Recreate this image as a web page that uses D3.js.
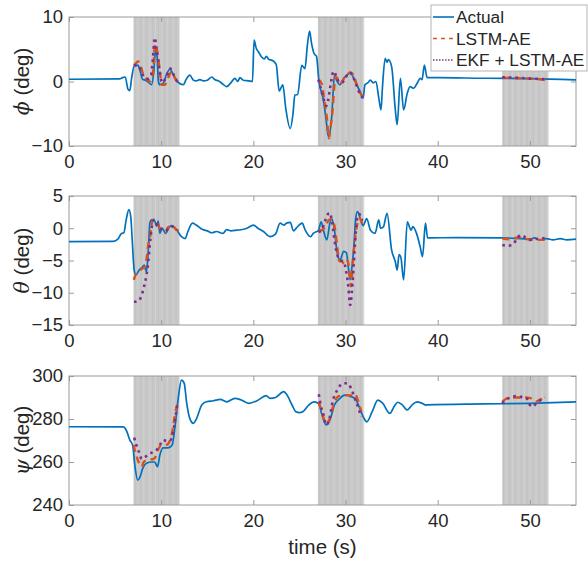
<!DOCTYPE html>
<html>
<head>
<meta charset="utf-8">
<script src="https://cdn.jsdelivr.net/npm/d3@7"></script>
<style>
  body { margin: 0; background: #fff; }
  text { font-family: "Liberation Sans", Arial, Helvetica, sans-serif; fill: #262626; }
</style>
</head>
<body>
<svg id="chart" width="588" height="562"></svg>
<script>
// ---- data -------------------------------------------------------------
const timeDomain = [0, 55];
const timeTicks = [0, 10, 20, 30, 40, 50];
// estimation windows (s)
const windows = [[7, 12], [27, 32], [47, 52]];

const seriesNames = ["Actual", "LSTM-AE", "EKF + LSTM-AE"];

// roll angle phi (deg); null separates estimation windows
const phiTicks = [-10, 0, 10];
const phiActual = [[0,0.35],[5.5,0.4],[5.8,0.6],[6.1,0.7],[6.4,-1.2],[6.6,-1.4],[6.8,0.6],[7.1,2.5],[7.5,2.5],[7.7,1.7],[8.0,0.3],[8.3,0.2],[8.6,-0.1],[8.95,-0.5],[9.2,1.5],[9.4,5.0],[9.55,4.0],[9.7,0],[9.85,-0.5],[10.2,-0.3],[10.6,1.2],[10.95,1.9],[11.3,1.1],[11.7,0.1],[12.0,-0.3],[12.4,-0.5],[12.7,0.3],[13.1,1.0],[13.5,0.2],[13.8,0.1],[14.2,0.3],[14.6,0.1],[15.0,0.2],[15.5,0.7],[15.8,0.3],[16.2,0.1],[16.6,-0.3],[17.1,-0.8],[17.5,-0.3],[18.0,0.5],[18.3,0],[18.55,0.6],[18.9,0.2],[19.5,0.1],[19.9,0.0],[20.08,6.4],[20.3,5.2],[20.6,4.5],[20.9,3.8],[21.2,3.5],[21.4,3.9],[21.7,3.4],[22.0,3.3],[22.3,3.0],[22.5,2.5],[22.8,-1.5],[23.0,-1.0],[23.2,-0.5],[23.5,-4],[24.0,-7.3],[24.3,-5],[24.5,-2.1],[24.8,-2.0],[25.25,2.5],[25.6,2.0],[25.85,5.5],[26.1,7.8],[26.3,6.0],[26.6,4.3],[26.85,3.9],[27.1,0.2],[27.6,-2.9],[27.9,-6],[28.15,-8.6],[28.5,-5.5],[28.8,1.0],[29.0,0.3],[29.4,-0.5],[29.8,0.5],[30.15,1.0],[30.5,1.3],[30.9,0.5],[31.2,-0.5],[31.6,-1.6],[31.9,-2.6],[32.1,-0.5],[32.4,-0.2],[32.7,0.2],[33.0,-0.2],[33.3,0.0],[33.6,-2.5],[33.85,-4.4],[34.0,-1],[34.3,3.6],[34.5,3.0],[34.65,3.4],[35.0,2.3],[35.4,-4.4],[35.6,-6.7],[35.95,0.5],[36.3,-4.4],[36.7,-1.8],[37.0,-0.8],[37.4,-1.05],[37.75,-0.3],[38.1,0.5],[38.3,0.3],[38.55,2.55],[38.85,0.6],[40,0.6],[45,0.5],[50,0.45],[55,0.25]];
const phiLstm = [[7.05,2.5],[7.3,2.9],[7.5,3.1],[7.7,2.8],[8.0,1.3],[8.4,0.4],[8.8,0.0],[9.15,1.8],[9.3,5.4],[9.4,5.8],[9.55,4.8],[9.7,3.4],[9.9,1.0],[10.05,-0.5],[10.4,-0.5],[10.8,0.7],[11.1,1.5],[11.5,0.5],[11.9,-0.2],
  null,[27.05,0.3],[27.4,-0.3],[27.7,-2.9],[28.0,-6],[28.2,-8.8],[28.35,-7.3],[28.6,-4.4],[28.75,-1.3],[28.9,0.8],[29.1,0.5],[29.4,-0.3],[29.9,0.6],[30.5,1.4],[30.9,0.9],[31.2,-0.4],[31.6,-1.8],[31.85,-2.3],
  null,[47,0.6],[48,0.55],[49,0.5],[50,0.45],[51,0.35],[51.9,0.3]];
const phiEkf = [[7.05,2.5],[7.4,2.5],[7.7,2.0],[7.9,1.3],[8.2,0.7],[8.6,0.4],[8.9,1.0],[9.1,3.5],[9.3,6.8],[9.5,5.0],[9.7,3.0],[9.85,1.5],[10.0,0.2],[10.2,-0.2],[10.4,0.3],[10.6,0.8],[10.85,1.8],[11.0,2.0],[11.3,1.2],[11.6,0.3],[11.9,-0.2],
  null,[27.05,0.3],[27.3,-1.0],[27.6,-2.6],[27.9,-3.8],[28.1,-3.0],[28.3,-1.2],[28.5,0.5],[28.7,1.6],[29.0,0.8],[29.3,-0.1],[29.6,-0.2],[30.0,0.6],[30.4,1.4],[30.7,1.1],[31.0,0.1],[31.3,-1.0],[31.6,-2.1],[31.85,-2.5],
  null,[47,0.65],[48,0.6],[49,0.55],[50,0.45],[51,0.4],[51.9,0.3]];

// pitch angle theta (deg)
const thetaTicks = [-15, -10, -5, 0, 5];
const thetaActual = [[0,-2.08],[4.8,-2.05],[5.3,-1.7],[5.7,-0.8],[5.95,-0.7],[6.2,1.3],[6.5,2.9],[6.7,1.8],[6.9,-2.9],[7.07,-6.5],[7.25,-7.25],[7.6,-6.5],[7.97,-6.0],[8.15,-5.7],[8.4,-6.7],[8.6,-3.6],[8.77,0.8],[8.95,1.3],[9.3,1.1],[9.5,0.3],[9.67,1.1],[9.86,-0.8],[10.1,0],[10.5,-0.8],[10.8,0],[11.1,0.4],[11.4,0.2],[11.7,-0.3],[12.2,-1.3],[12.6,-1.6],[12.9,-0.5],[13.4,0.8],[13.8,0.5],[14.5,-0.2],[15.0,-0.4],[15.5,-0.7],[16.0,-0.5],[16.7,-0.8],[17.1,-0.2],[17.6,-0.4],[18.2,-0.3],[18.8,-0.2],[19.3,0],[20.0,0.5],[20.5,0],[21.1,-0.5],[21.8,-1.3],[22.4,-0.9],[22.9,0.8],[23.3,0.5],[23.6,0.8],[24.0,0.9],[24.35,-0.4],[24.7,0.1],[25.3,0.8],[25.6,-0.2],[26.2,-1.3],[26.5,-0.8],[27.07,-0.3],[27.35,1.0],[27.6,-0.3],[27.97,-1.8],[28.3,0.8],[28.5,1.5],[28.8,-0.3],[29.07,-3.6],[29.4,-4.9],[29.8,-3.6],[30.1,-3.8],[30.3,-6.0],[30.5,-8.0],[30.7,-6.0],[30.9,-2.9],[31.1,1.5],[31.3,2.6],[31.6,1.5],[31.9,0.4],[32.3,1.5],[32.7,-0.3],[33.2,-0.8],[33.6,1.3],[33.8,0],[34.1,0.2],[34.5,2.3],[35.0,-3.4],[35.4,-5.2],[35.6,-6.5],[35.8,-4.1],[36.0,-4.5],[36.3,-8.0],[36.7,1.0],[37.1,-0.3],[37.3,0.25],[37.7,-0.8],[38.1,-2.9],[38.35,-4.4],[38.67,0.8],[38.9,-1.5],[42,-1.45],[47,-1.5],[48,-1.55],[49,-1.6],[50,-1.7],[50.5,-1.5],[51,-1.8],[51.8,-1.6],[52.5,-1.8],[53.3,-1.6],[54,-1.8],[55,-1.7]];
const thetaLstm = [[7.03,-8.0],[7.3,-7.0],[7.6,-6.6],[8.0,-6.2],[8.23,-6.0],[8.4,-4.9],[8.6,-2.6],[8.8,-1.3],[8.95,0.5],[9.13,1.3],[9.5,1.0],[9.86,0],[10.2,-0.2],[10.5,-0.6],[10.7,0.1],[11.2,0.4],[11.6,-0.2],[11.9,-0.4],
  null,[27.07,-0.3],[27.4,-0.3],[27.8,0.2],[28.2,1.3],[28.5,1.4],[28.8,0.3],[29.07,-2.5],[29.3,-5.0],[29.6,-5.2],[30.0,-5.6],[30.2,-5.0],[30.4,-6.3],[30.6,-9.0],[30.8,-5],[31.1,-0.8],[31.3,0.9],[31.5,1.6],[31.65,1.3],[31.85,0.5],
  null,[47.0,-1.6],[47.9,-1.7],[48.8,-1.4],[49.2,-1.6],[49.8,-1.7],[50.7,-1.8],[51.7,-1.8]];
const thetaEkf = [[7.05,-11.4],[7.3,-11.4],[7.6,-11.2],[7.9,-10.3],[8.15,-9.0],[8.4,-7.3],[8.6,-5.2],[8.75,-2.8],[8.9,-0.7],[9.05,0.8],[9.2,1.3],[9.45,1.0],[9.7,0.3],[9.9,-0.1],[10.2,-0.1],[10.5,-0.4],[10.8,0.0],[11.1,0.3],[11.4,0.1],[11.7,-0.3],
  null,[27.07,-0.6],[27.4,-0.3],[27.7,0.8],[28.0,2.0],[28.3,2.4],[28.55,0.8],[28.9,-2.8],[29.1,-4.1],[29.4,-4.9],[29.8,-5.2],[30.1,-7.0],[30.3,-9.0],[30.5,-11.9],[30.7,-9.6],[30.9,-5.3],[31.1,-0.8],[31.3,1.8],[31.5,2.2],[31.7,1.5],[31.9,1.3],
  null,[47.0,-2.6],[47.5,-2.7],[48.1,-2.6],[48.6,-1.6],[49.0,-1.05],[49.5,-1.4],[50.0,-1.8],[50.5,-1.7],[51.1,-1.6],[51.7,-1.5]];

// yaw angle psi (deg)
const psiTicks = [240, 260, 280, 300];
const psiActual = [[0,276.4],[5.9,276.3],[6.2,274.9],[6.6,270.2],[6.9,267.9],[7.14,258.6],[7.45,251.6],[7.7,253],[8.0,257],[8.4,259.4],[9.0,260],[9.3,260],[9.6,257.8],[9.86,263.3],[10.2,266.6],[10.7,266.6],[11.0,267.1],[11.2,268],[11.5,276.4],[11.85,289.6],[12.2,298.1],[12.5,296.6],[12.75,288],[13.1,280.3],[13.5,278],[13.85,280.3],[14.4,286.5],[14.9,288],[15.7,288.5],[16.4,289.1],[17.1,288],[18.0,289.6],[18.6,289],[19.5,287.3],[20.4,288.5],[21.4,290.9],[21.8,289.6],[22.4,290],[23.3,292.7],[23.6,291.5],[24.2,286.5],[24.6,283.4],[25.0,283],[25.4,283.5],[26.0,286.5],[26.6,288],[27.1,287],[27.4,282.6],[27.9,277.2],[28.3,279.5],[28.8,286.5],[29.4,289.6],[29.8,291],[30.1,291.2],[30.5,290.5],[31.0,289.6],[31.4,286.5],[32.0,280.3],[32.3,278.7],[32.9,283.5],[33.5,288.8],[34.0,287.5],[34.8,282.6],[35.3,286],[35.65,287.8],[36.1,286.8],[36.7,284.2],[37.2,286.5],[37.75,288],[38.3,287.3],[38.67,286.5],[38.9,286.6],[45,287],[50,287.3],[55,288]];
const psiLstm = [[7.0,267.9],[7.14,265.6],[7.3,263],[7.6,259.5],[7.9,257.8],[8.1,260],[8.6,261],[9.2,261.5],[9.4,262.5],[9.7,266],[10.0,267.9],[10.6,268],[10.9,269.5],[11.2,274],[11.5,282],[11.8,287.8],
  null,[27.1,288],[27.4,283.5],[27.9,278],[28.3,280.3],[28.7,286.5],[29.2,290.5],[29.8,291],[30.5,291],[31.0,291.7],[31.4,288],[31.7,283.5],
  null,[47.0,288],[47.5,289.6],[48.3,290],[49.2,290],[50.0,289.8],[50.6,288],[51.1,289],[51.6,290]];
const psiEkf = [[7.07,271.3],[7.3,267.9],[7.6,264.5],[7.9,261.4],[8.2,262],[8.6,263.6],[9.1,264.5],[9.5,265.6],[9.86,267.9],[10.2,270.2],[10.6,269.8],[11.0,270.2],[11.3,274],[11.5,279.5],[11.8,288],
  null,[27.1,291.5],[27.3,286.5],[27.6,282],[27.9,277.2],[28.3,281],[28.6,288],[29.1,293.5],[29.4,295.5],[29.8,296.6],[30.2,296.6],[30.6,294.3],[31.0,289.6],[31.4,285],[31.7,281],
  null,[47.0,287.3],[47.4,289],[47.9,290],[48.5,290.7],[49.0,290.3],[49.6,289.8],[50.0,286.5],[50.3,285.7],[50.6,286.8],[51.1,288.6],[51.6,290.1]];

// ---- layout & styles ----------------------------------------------------
const svg = d3.select("#chart");
const left = 69, right = 576;
const panels = [
  { top: 17,  bottom: 146, domain: [-10, 10],  ticks: phiTicks,   sym: "ϕ", series: [phiActual, phiLstm, phiEkf] },
  { top: 196, bottom: 325, domain: [-15, 5],   ticks: thetaTicks, sym: "θ", series: [thetaActual, thetaLstm, thetaEkf] },
  { top: 376, bottom: 505, domain: [240, 300], ticks: psiTicks,   sym: "ψ", series: [psiActual, psiLstm, psiEkf] }
];
const styles = [
  { color: "#0072BD", width: 1.7, dash: null },
  { color: "#D95319", width: 2.4, dash: "7,5" },
  { color: "#7E2F8E", width: 2.6, dash: "2.6,4" }
];
const tickFont = 18.5, legendFont = 17.3, labelFont = 20.5;
const axisColor = "#9a9a9a";

const x = d3.scaleLinear().domain(timeDomain).range([left, right]);

panels.forEach((p, i) => {
  const y = d3.scaleLinear().domain(p.domain).range([p.bottom, p.top]);
  const g = svg.append("g");
  const clipId = "clip" + i;
  svg.append("clipPath").attr("id", clipId)
    .append("rect").attr("x", left).attr("y", p.top)
    .attr("width", right - left).attr("height", p.bottom - p.top);

  // shaded estimation windows with faint vertical striping
  const shade = g.append("g").attr("clip-path", `url(#${clipId})`);
  windows.forEach(([a, b]) => {
    shade.append("rect").attr("x", x(a)).attr("y", p.top)
      .attr("width", x(b) - x(a)).attr("height", p.bottom - p.top)
      .attr("fill", "#c9c9c9");
    d3.range(a + 0.15, b, 0.32).forEach((s, k) => {
      shade.append("line").attr("x1", x(s)).attr("x2", x(s))
        .attr("y1", p.top).attr("y2", p.bottom)
        .attr("stroke", k % 2 ? "#d3d3d3" : "#bfbfbf").attr("stroke-width", 0.7);
    });
    shade.append("line").attr("x1", x(b)).attr("x2", x(b))
      .attr("y1", p.top).attr("y2", p.bottom)
      .attr("stroke", "#e6e6e6").attr("stroke-width", 1);
  });

  // axes box
  g.append("rect").attr("x", left).attr("y", p.top)
    .attr("width", right - left).attr("height", p.bottom - p.top)
    .attr("fill", "none").attr("stroke", axisColor).attr("stroke-width", 1);

  // x ticks (bottom & top, inward) with labels
  const xb = d3.axisBottom(x).tickValues(timeTicks).tickSize(-5).tickPadding(9).tickFormat(d3.format("d"));
  const xa = g.append("g").attr("transform", `translate(0,${p.bottom})`).call(xb);
  const xt = d3.axisTop(x).tickValues(timeTicks).tickSize(-5).tickFormat("");
  const xat = g.append("g").attr("transform", `translate(0,${p.top})`).call(xt);
  // y ticks (left & right, inward)
  const yl = d3.axisLeft(y).tickValues(p.ticks).tickSize(-5).tickPadding(6).tickFormat(d3.format("d"));
  const ya = g.append("g").attr("transform", `translate(${left},0)`).call(yl);
  const yr = d3.axisRight(y).tickValues(p.ticks).tickSize(-5).tickFormat("");
  const yar = g.append("g").attr("transform", `translate(${right},0)`).call(yr);
  [xa, xat, ya, yar].forEach(a => {
    a.select(".domain").remove();
    a.selectAll(".tick line").attr("stroke", axisColor);
    a.selectAll("text").attr("font-size", tickFont).attr("fill", "#262626")
      .attr("font-family", '"Liberation Sans", Arial, sans-serif');
  });

  // series lines
  const line = d3.line().defined(d => d !== null)
    .x(d => x(d[0])).y(d => y(d[1])).curve(d3.curveMonotoneX);
  const lg = g.append("g").attr("clip-path", `url(#${clipId})`);
  p.series.forEach((data, k) => {
    const st = styles[k];
    lg.append("path").datum(data).attr("d", line)
      .attr("fill", "none").attr("stroke", st.color)
      .attr("stroke-width", st.width)
      .attr("stroke-dasharray", st.dash)
      .attr("stroke-linejoin", "round");
  });

  // y label: italic greek symbol + units
  const cy = (p.top + p.bottom) / 2;
  const t = g.append("text")
    .attr("transform", `translate(29,${cy}) rotate(-90)`)
    .attr("text-anchor", "middle").attr("font-size", labelFont);
  t.append("tspan").attr("font-family", '"DejaVu Serif", "Liberation Serif", serif')
    .attr("font-style", "italic").text(p.sym);
  t.append("tspan").text(" (deg)");
});

// x axis title
svg.append("text").attr("x", (left + right) / 2).attr("y", 554)
  .attr("text-anchor", "middle").attr("font-size", labelFont).text("time (s)");

// legend
const leg = svg.append("g");
leg.append("rect").attr("x", 431).attr("y", 5).attr("width", 156).attr("height", 66)
  .attr("fill", "#fff").attr("stroke", "#b5b5b5").attr("stroke-width", 1);
seriesNames.forEach((name, k) => {
  const yy = 17 + k * 21.5;
  const st = styles[k];
  leg.append("line").attr("x1", 433).attr("x2", 454).attr("y1", yy).attr("y2", yy)
    .attr("stroke", st.color).attr("stroke-width", 1.6)
    .attr("stroke-dasharray", k === 1 ? "4,4" : (k === 2 ? "1.5,1.5" : null));
  leg.append("text").attr("x", 456).attr("y", yy).attr("dy", "0.35em")
    .attr("font-size", legendFont).text(name);
});
</script>
</body>
</html>
